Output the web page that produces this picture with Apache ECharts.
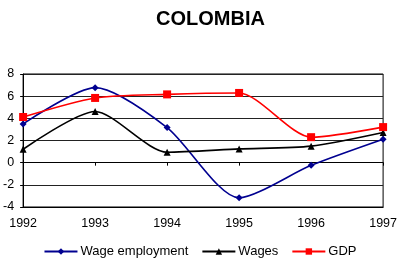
<!DOCTYPE html>
<html>
<head>
<meta charset="utf-8">
<script src="https://cdn.jsdelivr.net/npm/echarts@6/dist/echarts.min.js"></script>
<style>
  html, body { margin: 0; padding: 0; background: #fff; }
  #main { width: 400px; height: 265px; }
</style>
</head>
<body>
<div id="main"></div>
<script>
// data
var years = [1992, 1993, 1994, 1995, 1996, 1997];
var wageEmployment = [3.5, 6.77, 3.17, -3.17, -0.24, 2.12];
var wages = [1.21, 4.62, 0.94, 1.24, 1.49, 2.72];
var gdp = [4.12, 5.84, 6.16, 6.29, 2.30, 3.21];
var yTicks = [-4, -2, 0, 2, 4, 6, 8];

var font = 'Liberation Sans, Arial, sans-serif';
var gridTop = 74, gridBottom = 58;
var gridHeight = 265 - gridTop - gridBottom;
var yMin = yTicks[0], yMax = yTicks[yTicks.length - 1];
// pixel offset that puts the tick-only axis on the zero line
var zeroOffset = -gridHeight * (0 - yMin) / (yMax - yMin);

function pairs(vals) {
    return years.map(function (y, i) { return [y, vals[i]]; });
}

var myChart = echarts.init(document.getElementById('main'));

var option = {
    animation: false,
    title: {
        text: 'COLOMBIA',
        left: 151,
        top: 4,
        textStyle: { fontFamily: font, fontSize: 20, fontWeight: 'bold', color: '#000' }
    },
    grid: {
        left: 22,
        right: 16,
        top: gridTop,
        bottom: gridBottom,
        show: true,
        borderColor: '#000',
        borderWidth: 1
    },
    legend: {
        data: ['Wage employment', 'Wages', 'GDP'],
        left: 'center',
        bottom: 2,
        itemWidth: 33,
        itemHeight: 8,
        itemGap: 13,
        textStyle: { fontFamily: font, fontSize: 13, color: '#000', padding: [0, 0, 0, -2] }
    },
    xAxis: [
        {
            type: 'value',
            min: years[0],
            max: years[years.length - 1],
            interval: 1,
            axisLine: { show: true, onZero: false, lineStyle: { color: '#000' } },
            axisTick: { show: false },
            splitLine: { show: false },
            axisLabel: {
                fontFamily: font, fontSize: 12.5, color: '#000', margin: 10,
                formatter: function (v) { return String(v); }
            }
        },
        {
            // tick marks sitting on the zero line
            type: 'value',
            position: 'bottom',
            offset: zeroOffset,
            min: years[0],
            max: years[years.length - 1],
            interval: 1,
            axisLine: { show: true, onZero: false, lineStyle: { color: '#000' } },
            axisTick: { show: true, length: 3, lineStyle: { color: '#000' } },
            axisLabel: { show: false },
            splitLine: { show: false }
        }
    ],
    yAxis: {
        type: 'value',
        min: yMin,
        max: yMax,
        interval: 2,
        axisLine: { show: true, lineStyle: { color: '#000' } },
        axisTick: { show: true, length: 3, lineStyle: { color: '#000' } },
        splitLine: { show: true, lineStyle: { color: '#222', width: 1 } },
        axisLabel: { fontFamily: font, fontSize: 12.5, color: '#000', margin: 9 }
    },
    series: [
        {
            name: 'Wage employment',
            type: 'line',
            data: pairs(wageEmployment),
            smooth: 0.25,
            symbol: 'diamond',
            symbolSize: 7,
            lineStyle: { color: '#000090', width: 1.6 },
            itemStyle: { color: '#000090' }
        },
        {
            name: 'Wages',
            type: 'line',
            data: pairs(wages),
            smooth: 0.25,
            symbol: 'triangle',
            symbolSize: 7,
            lineStyle: { color: '#000', width: 1.6 },
            itemStyle: { color: '#000' }
        },
        {
            name: 'GDP',
            type: 'line',
            data: pairs(gdp),
            smooth: 0.25,
            symbol: 'rect',
            symbolSize: 8,
            lineStyle: { color: '#ff0000', width: 1.6 },
            itemStyle: { color: '#ff0000' }
        }
    ]
};

myChart.setOption(option);
</script>
</body>
</html>
